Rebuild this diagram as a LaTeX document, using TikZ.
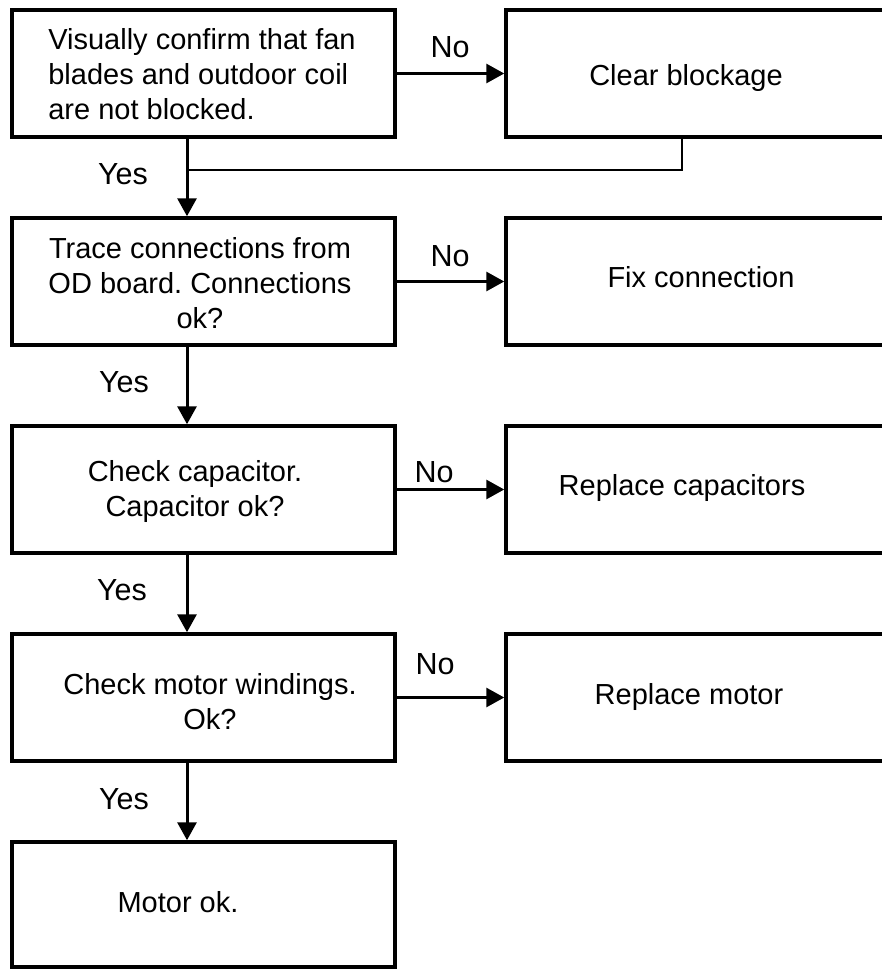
\documentclass[tikz,border=0pt]{standalone}
\usepackage{fontspec}
\setmainfont{Liberation Sans}
\usetikzlibrary{arrows.meta}
\frenchspacing
\begin{document}
\begin{tikzpicture}[x=1pt,y=-1pt,
  box/.style={draw, line width=3.5pt, minimum width=383pt, minimum height=127pt, inner sep=0pt},
  rbox/.style={draw, line width=3.5pt, minimum width=444pt, minimum height=127pt, inner sep=0pt},
  txt/.style={font=\fontsize{29}{35}\selectfont\frenchspacing, align=center, inner sep=0pt},
  onetxt/.style={font=\fontsize{29}{35}\selectfont, inner sep=0pt, text height=20.8pt, text depth=0pt},
  lbl/.style={font=\fontsize{30.5}{36}\selectfont, inner sep=0pt, text height=21.8pt, text depth=0pt},
  arr/.style={line width=3pt, -{Triangle[length=18pt,width=19pt]}},
  thinline/.style={line width=1.3pt}]
\useasboundingbox (0,0) rectangle (882,969);
\clip (0,0) rectangle (882,969);
% left column boxes
\node[box] (b1) at (203.5,73.5) {};
\node[box] (b2) at (203.5,281.5) {};
\node[box] (b3) at (203.5,489.5) {};
\node[box] (b4) at (203.5,697.5) {};
\node[box, minimum height=125pt] (b5) at (203.5,904.5) {};
% right column boxes
\node[rbox] (r1) at (728,73.5) {};
\node[rbox] (r2) at (728,281.5) {};
\node[rbox] (r3) at (728,489.5) {};
\node[rbox] (r4) at (728,697.5) {};
% box texts
\node[txt, align=left] (t1) at (202,74) {Visually confirm that fan\\blades and outdoor coil\\are not blocked.};
\node[txt] (t2) at (200,283) {Trace connections from\\OD board. Connections\\ok?};
\node[txt] (t3) at (195,491) {Check capacitor.\\Capacitor ok?};
\node[txt] (t4) at (210,702) {Check motor windings.\\Ok?};
\node[onetxt] (t5) at (178,902.5) {Motor ok.};
\node[onetxt] (s1) at (686,75.5) {Clear blockage};
\node[onetxt] (s2) at (701,277.5) {Fix connection};
\node[onetxt] (s3) at (682,485.5) {Replace capacitors};
\node[onetxt] (s4) at (689,694.5) {Replace motor};
% helper coordinates
\coordinate (vx) at (187,0);
\coordinate (jx) at (682,0);
\coordinate (j) at (187,170);
% No arrows
\draw[arr] (b1.east) -- (r1.west);
\draw[arr] (b2.east) -- (r2.west);
\draw[arr] (b3.east) -- (r3.west);
\draw[arr] (b4.east) -- (r4.west);
% Yes arrows
\draw[arr] (b1.south -| vx) -- (b2.north -| vx);
\draw[arr] (b2.south -| vx) -- (b3.north -| vx);
\draw[arr] (b3.south -| vx) -- (b4.north -| vx);
\draw[arr] (b4.south -| vx) -- (b5.north -| vx);
% return line from Clear blockage
\draw[thinline] (r1.south -| jx) |- (j);
% labels
\node[lbl] (y1) at (123,174) {Yes};
\node[lbl] (y2) at (124,382) {Yes};
\node[lbl] (y3) at (122,590) {Yes};
\node[lbl] (y4) at (124,798.5) {Yes};
\node[lbl] (n1) at (450,47) {No};
\node[lbl] (n2) at (450,256) {No};
\node[lbl] (n3) at (434,472) {No};
\node[lbl] (n4) at (435,663.5) {No};
\end{tikzpicture}
\end{document}
